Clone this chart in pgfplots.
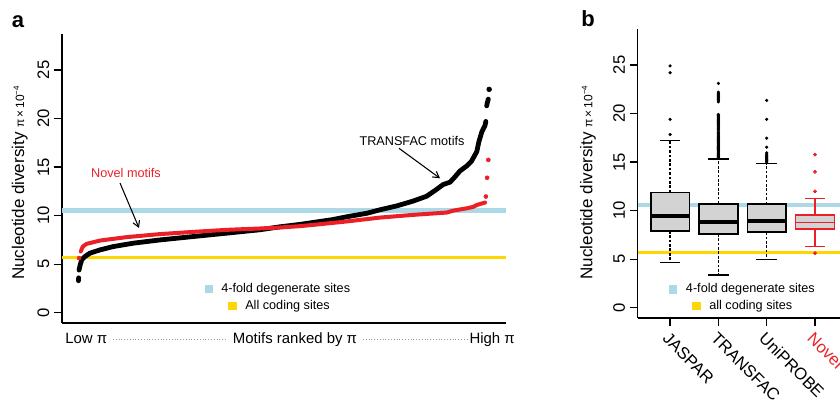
\documentclass[border=0pt]{standalone}
\usepackage{pgfplots}
\pgfplotsset{compat=1.18}
\usepgfplotslibrary{statistics}
\usetikzlibrary{arrows.meta}
\usepackage{fontspec}
\setmainfont{Liberation Sans}
\definecolor{novelred}{RGB}{235,32,38}
\definecolor{ltblue}{RGB}{173,216,230}
\definecolor{goldy}{RGB}{255,215,0}
\definecolor{boxgray}{RGB}{211,211,211}
\definecolor{dotgray}{RGB}{150,150,150}
\newcommand\fA{\fontsize{9.5}{11}\selectfont}
\newcommand\fB{\fontsize{11.2}{13}\selectfont}
\newcommand\fT{\fontsize{12.5}{14}\selectfont}

\pgfplotsset{
  rpanel/.style={
    scale only axis,
    axis x line*=bottom, axis y line*=left,
    x axis line style={-}, y axis line style={-},
    axis line style={line width=1.1pt, black},
    tick align=outside,
    major tick length=6pt,
    tick style={line width=1pt, black},
    ymin=-1.05, ymax=28.7,
    ytick={0,5,10,15,20,25},
    /pgf/number format/assume math mode=true,
    yticklabel style={rotate=90, anchor=south, font=\fT},
    ylabel={Nucleotide diversity {\fontsize{9}{10}\selectfont π\,×\,10\textsuperscript{−4}}},
    ylabel style={anchor=center, font=\fontsize{12.75}{14}\selectfont},
    clip mode=individual,
  },
  boxplot/draw/lower whisker/.code={%
    \draw[/pgfplots/boxplot/every whisker/.try]
      (boxplot box cs:\pgfplotsboxplotvalue{lower quartile},0.5) --
      (boxplot box cs:\pgfplotsboxplotvalue{lower whisker},0.5);
    \draw[/pgfplots/boxplot/every whisker/.try, solid]
      (boxplot whisker cs:\pgfplotsboxplotvalue{lower whisker},0) --
      (boxplot whisker cs:\pgfplotsboxplotvalue{lower whisker},1);
  },
  boxplot/draw/upper whisker/.code={%
    \draw[/pgfplots/boxplot/every whisker/.try]
      (boxplot box cs:\pgfplotsboxplotvalue{upper quartile},0.5) --
      (boxplot box cs:\pgfplotsboxplotvalue{upper whisker},0.5);
    \draw[/pgfplots/boxplot/every whisker/.try, solid]
      (boxplot whisker cs:\pgfplotsboxplotvalue{upper whisker},0) --
      (boxplot whisker cs:\pgfplotsboxplotvalue{upper whisker},1);
  },
  blackbox/.style={
    black, mark=*, mark size=1pt,
    boxplot/draw direction=y,
    boxplot/box extend=0.8, boxplot/whisker extend=0.43,
    boxplot/every box/.style={draw=black, fill=boxgray, line width=1.3pt},
    boxplot/every median/.style={draw=black, line width=3pt},
    boxplot/every whisker/.style={draw=black, line width=1pt, dash pattern=on 2pt off 1.3pt},
  },
}

\begin{document}
\begin{tikzpicture}

% ---------------- panel a ----------------
\begin{axis}[rpanel, at={(46.5pt,57.75pt)}, anchor=south west,
  width=333pt, height=216.75pt,
  xmin=-0.04, xmax=1.04, xtick=\empty,
  ylabel style={at={(axis description cs:-0.095,0.486)}}]
\addplot[ltblue, line width=3.3pt] coordinates {(-0.04,10.55) (1.04,10.55)};
\addplot[goldy, line width=1.8pt] coordinates {(-0.04,5.7) (1.04,5.7)};
% TRANSFAC motifs (black)
\addplot[black, line width=3.6pt, line cap=round, line join=round] coordinates {
(0.0015,4.4) (0.004,4.9) (0.008,5.45) (0.016,5.8) (0.028,6.14) (0.053,6.48)
(0.085,6.82) (0.134,7.17) (0.198,7.5) (0.279,7.85) (0.361,8.2) (0.442,8.55)
(0.490,8.85) (0.539,9.1) (0.571,9.3) (0.619,9.6) (0.652,9.88) (0.702,10.25)
(0.733,10.6) (0.774,11.0) (0.814,11.5) (0.847,12.0) (0.871,12.7) (0.887,13.2)
(0.904,13.45) (0.916,14.0) (0.928,14.6) (0.944,15.1) (0.956,15.6) (0.969,16.6)
(0.974,17.6) (0.981,18.6) (0.989,19.3) (0.991,19.7)};
\addplot[black, line width=3.6pt, line cap=round] coordinates {(0,3.3) (0.0005,3.6)};
\addplot[black, line width=3.6pt, line cap=round] coordinates {(0.993,21.3) (0.995,21.7) (0.997,22.0)};
\addplot[black, only marks, mark=*, mark size=1.8pt] coordinates {(0.999,23.0)};
% Novel motifs (red)
\addplot[novelred, line width=3pt, line cap=round, line join=round] coordinates {
(0.0056,6.3) (0.0105,6.82) (0.020,7.1) (0.053,7.44) (0.117,7.79) (0.198,8.1)
(0.279,8.33) (0.361,8.54) (0.442,8.68) (0.490,8.78) (0.539,8.92) (0.571,9.05)
(0.652,9.4) (0.733,9.8) (0.814,10.08) (0.896,10.32) (0.912,10.52) (0.944,10.75)
(0.960,10.9) (0.969,11.1) (0.989,11.35)};
\addplot[novelred, only marks, mark=*, mark size=1.5pt] coordinates {
(0.0015,5.63) (0.991,11.97) (0.994,13.9) (0.997,15.74)};
\end{axis}

% ---------------- panel b ----------------
\begin{axis}[rpanel, at={(478.3pt,61.5pt)}, anchor=south west,
  width=157.2pt, height=216.75pt,
  xmin=0.33, xmax=4.67, xtick={1,2,3,4},
  xticklabels={JASPAR,TRANSFAC,UniPROBE,\textcolor{novelred}{Novel motifs}},
  xticklabel style={rotate=-45, anchor=north west, font=\fT},
  xticklabel shift=-1pt,
  ylabel style={at={(axis description cs:-0.237,0.47)}}]
\addplot[ltblue, line width=3.3pt] coordinates {(0.33,10.6) (4.67,10.6)};
\addplot[goldy, line width=1.8pt] coordinates {(0.33,5.68) (4.67,5.68)};
\addplot[blackbox, boxplot prepared={draw position=1, lower whisker=4.65,
  lower quartile=7.92, median=9.42, upper quartile=11.88, upper whisker=17.25}]
  table[row sep=\\, y index=0] {data\\ 17.84\\ 19.4\\ 24.2\\ 24.9\\};
\addplot[blackbox, boxplot prepared={draw position=2, lower whisker=3.38,
  lower quartile=7.61, median=8.84, upper quartile=10.71, upper whisker=15.33}]
  table[row sep=\\, y index=0] {data\\
  15.4\\ 15.5\\ 15.6\\ 15.7\\ 15.8\\ 15.9\\ 16.0\\ 16.1\\ 16.2\\ 16.3\\
  16.4\\ 16.5\\ 16.6\\ 16.7\\ 16.8\\ 16.9\\ 17.0\\ 17.1\\ 17.2\\ 17.3\\
  17.4\\ 17.5\\ 17.6\\ 17.7\\ 17.8\\ 17.9\\ 18.0\\ 18.1\\ 18.3\\ 18.4\\
  18.5\\ 18.6\\ 18.7\\ 18.8\\ 18.9\\ 19.0\\ 19.1\\ 19.2\\ 19.3\\ 19.4\\
  19.5\\ 19.6\\ 19.7\\ 19.8\\ 19.9\\ 21.2\\ 21.3\\ 21.4\\ 21.5\\ 21.6\\
  21.7\\ 21.8\\ 21.9\\ 22.0\\ 22.1\\ 22.2\\ 23.1\\};
\addplot[blackbox, boxplot prepared={draw position=3, lower whisker=5.0,
  lower quartile=7.79, median=8.97, upper quartile=10.66, upper whisker=14.85}]
  table[row sep=\\, y index=0] {data\\ 15.0\\ 15.1\\ 15.2\\ 15.3\\ 15.4\\
  15.5\\ 15.6\\ 15.7\\ 15.8\\ 15.95\\ 16.53\\ 17.46\\ 19.4\\ 21.35\\};
\addplot[novelred, mark=*, mark size=1.2pt,
  boxplot/draw direction=y,
  boxplot/box extend=0.8, boxplot/whisker extend=0.43,
  boxplot/every box/.style={draw=novelred, fill=boxgray, line width=1.1pt},
  boxplot/every median/.style={draw=novelred, line width=1.1pt},
  boxplot/every whisker/.style={draw=novelred, line width=1.1pt},
  boxplot prepared={draw position=4, lower whisker=6.30,
  lower quartile=8.12, median=8.78, upper quartile=9.54, upper whisker=11.23}]
  table[row sep=\\, y index=0] {data\\ 5.62\\ 11.98\\ 14.0\\ 15.77\\};
\end{axis}

% ---------------- annotations (image pixel coordinates) ----------------
\begin{scope}[shift={(0pt,300pt)}, x=0.75pt, y=-0.75pt]
  \node[anchor=base, font=\fontsize{16.5}{18}\selectfont\bfseries] at (18,27.3) {a};
  \node[anchor=base, font=\fontsize{16.5}{18}\selectfont\bfseries] at (588,27) {b};
  % panel a text
  \node[font=\fA, text=novelred] at (126,173) {Novel motifs};
  \draw[line width=0.8pt, -{Straight Barb[length=4.5pt,width=5.2pt]}] (120,183) -- (139,228);
  \node[font=\fA] at (412,141) {TRANSFAC motifs};
  \draw[line width=0.8pt, -{Straight Barb[length=4.5pt,width=5.2pt]}] (399,148.3) -- (440,178.3);
  \fill[ltblue] (204.75,284.75) rectangle (213.25,293.25);
  \node[font=\fA, anchor=base west, inner sep=0pt] at (221,293) {4-fold degenerate sites};
  \fill[goldy] (228.25,301.75) rectangle (236.75,310.25);
  \node[font=\fA, anchor=base west, inner sep=0pt] at (245,310) {All coding sites};
  \node[font=\fB, anchor=base west, inner sep=0pt] at (65,344) {Low π};
  \node[font=\fB, anchor=base, inner sep=0pt] at (295,344) {Motifs ranked by π};
  \node[font=\fB, anchor=base east, inner sep=0pt] at (515,344) {High π};
  \draw[dotgray, line width=0.7pt, dash pattern=on 0.7pt off 1.4pt] (113,339) -- (227,339);
  \draw[dotgray, line width=0.7pt, dash pattern=on 0.7pt off 1.4pt] (363,339) -- (468,339);
  % panel b legend
  \fill[ltblue] (668.75,285.05) rectangle (677.25,293.55);
  \node[font=\fA, anchor=base west, inner sep=0pt] at (685.7,292.5) {4-fold degenerate sites};
  \fill[goldy] (692.45,301.75) rectangle (700.95,310.25);
  \node[font=\fA, anchor=base west, inner sep=0pt] at (709,309.5) {all coding sites};
\end{scope}

\pgfresetboundingbox
\useasboundingbox (0,0) rectangle (630pt,300pt);
\end{tikzpicture}
\end{document}
